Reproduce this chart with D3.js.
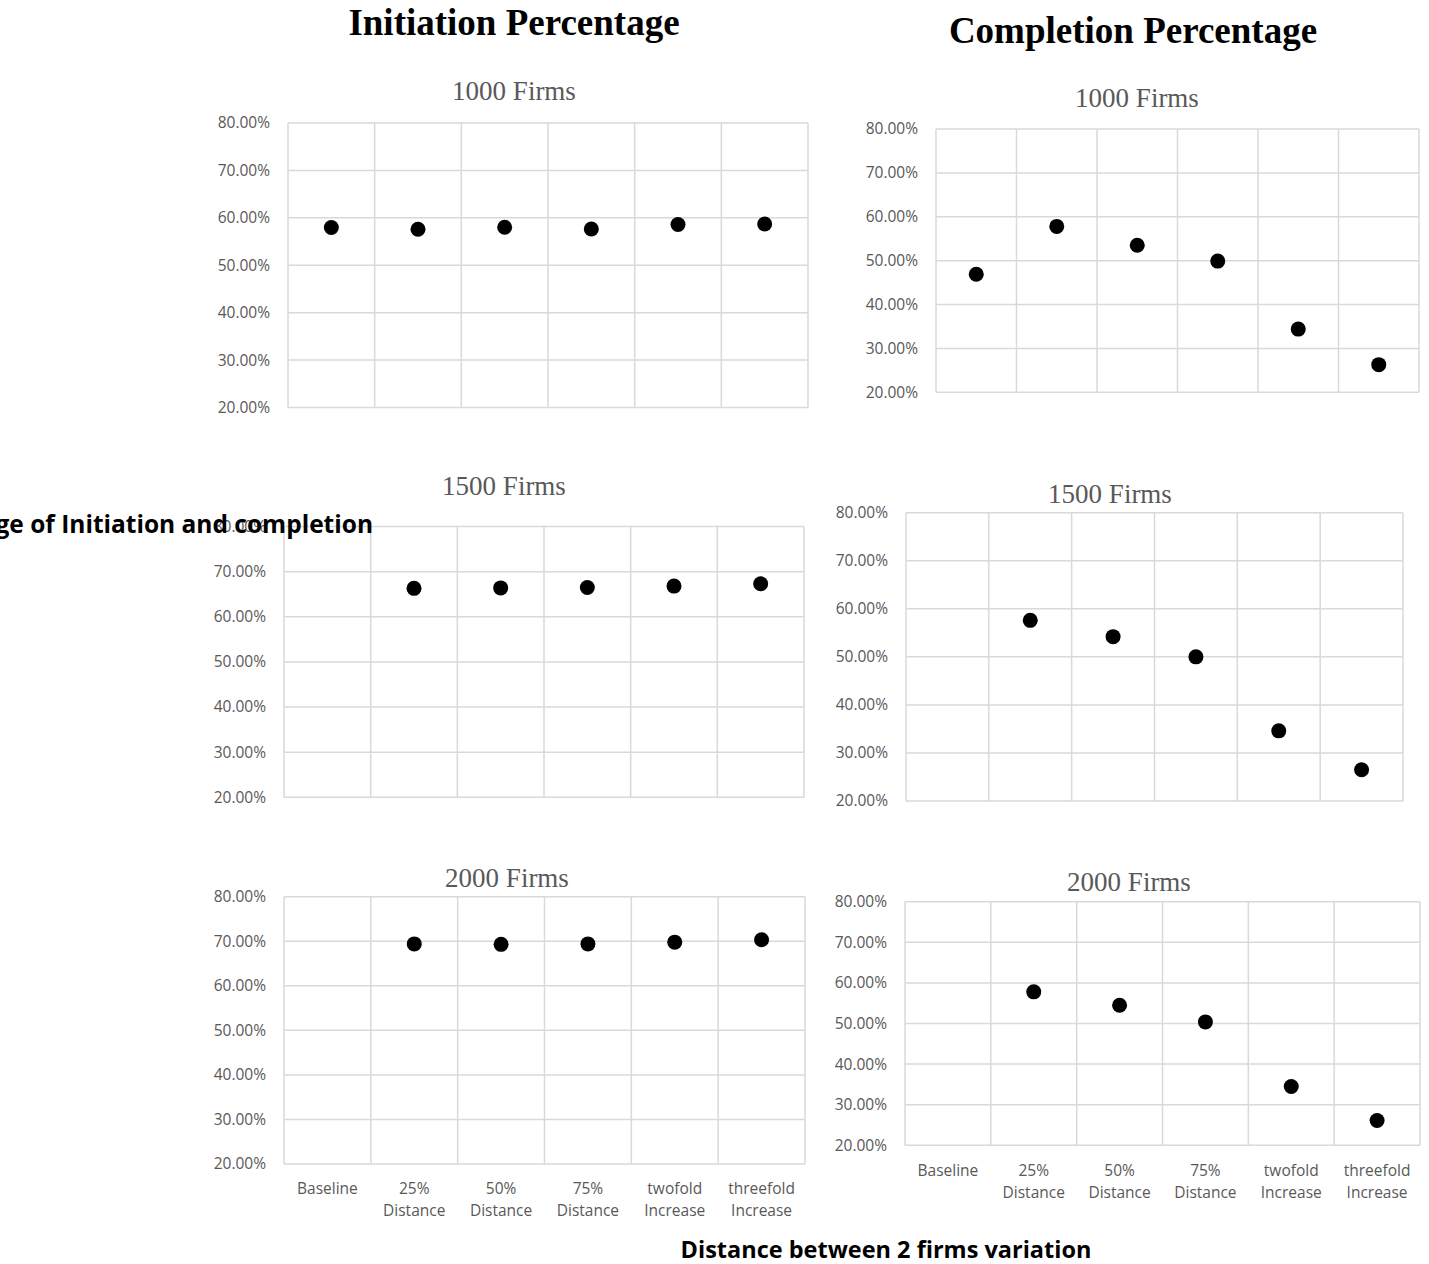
<!DOCTYPE html>
<html>
<head>
<meta charset="utf-8">
<script src="https://cdn.jsdelivr.net/npm/d3@7"></script>
<style>
  body { margin: 0; background: #fff; }
  svg { display: block; }
  .tick-label { font-family: "Open Sans", sans-serif; font-size: 15.5px; fill: #595959; }
  .cat-label { font-family: "Open Sans", sans-serif; font-size: 15.5px; fill: #595959; }
  .panel-title { font-family: "Liberation Serif", "Times New Roman", serif; font-size: 27px; fill: #595959; }
  .main-title { font-family: "Liberation Serif", "Times New Roman", serif; font-size: 37px; font-weight: bold; fill: #000; }
  .axis-title { font-family: "Open Sans", sans-serif; font-size: 23.5px; font-weight: bold; fill: #000; }
</style>
</head>
<body>
<svg id="chart"></svg>
<script>
// categories on the x axis (two lines each)
const categories = ["Baseline", "25% Distance", "50% Distance", "75% Distance", "twofold Increase", "threefold Increase"];
const categoryLines = [["Baseline"], ["25%", "Distance"], ["50%", "Distance"], ["75%", "Distance"], ["twofold", "Increase"], ["threefold", "Increase"]];

// y ticks
const yTicks = [0.2, 0.3, 0.4, 0.5, 0.6, 0.7, 0.8];

// series values (percent), null = no point
const init1000 = [57.95, 57.6, 58.0, 57.65, 58.6, 58.7];
const comp1000 = [46.9, 57.8, 53.5, 49.9, 34.4, 26.3];
const init1500 = [null, 66.3, 66.4, 66.5, 66.8, 67.3];
const comp1500 = [null, 57.6, 54.2, 50.0, 34.6, 26.5];
const init2000 = [null, 69.4, 69.3, 69.4, 69.8, 70.35];
const comp2000 = [null, 57.8, 54.5, 50.4, 34.5, 26.1];

const width = 1429, height = 1264;
const svg = d3.select("#chart").attr("width", width).attr("height", height);

// panel boxes (plot area) and title placement
const panels = [
  { title: "1000 Firms", values: init1000, left: 288, right: 808, top: 123, bottom: 407.5, tx: 514, ty: 100, showX: false },
  { title: "1000 Firms", values: comp1000, left: 936, right: 1419, top: 129, bottom: 392.3, tx: 1137, ty: 107, showX: false },
  { title: "1500 Firms", values: init1500, left: 284, right: 804, top: 526.5, bottom: 797.3, tx: 504, ty: 495, showX: false },
  { title: "1500 Firms", values: comp1500, left: 906, right: 1403, top: 512.7, bottom: 801, tx: 1110, ty: 503, showX: false },
  { title: "2000 Firms", values: init2000, left: 284, right: 805, top: 896.7, bottom: 1164, tx: 507, ty: 887, showX: true },
  { title: "2000 Firms", values: comp2000, left: 905, right: 1420, top: 901.7, bottom: 1145.3, tx: 1129, ty: 891, showX: true }
];

const gridColor = "#d9d9d9";
const fmt = d3.format(".2%");

function drawPanel(p) {
  const g = svg.append("g");

  const x = d3.scaleBand().domain(categories).range([p.left, p.right]).padding(0);
  const y = d3.scaleLinear().domain([0.2, 0.8]).range([p.bottom, p.top]);

  // horizontal gridlines
  g.selectAll(".hgrid")
    .data(yTicks)
    .enter()
    .append("line")
    .attr("x1", p.left)
    .attr("x2", p.right)
    .attr("y1", (d) => y(d))
    .attr("y2", (d) => y(d))
    .attr("stroke", gridColor)
    .attr("stroke-width", 1.5);

  // vertical gridlines (category boundaries, incl. both edges)
  const bounds = categories.map((c) => x(c)).concat([p.right]);
  g.selectAll(".vgrid")
    .data(bounds)
    .enter()
    .append("line")
    .attr("x1", (d) => d)
    .attr("x2", (d) => d)
    .attr("y1", p.top)
    .attr("y2", p.bottom)
    .attr("stroke", gridColor)
    .attr("stroke-width", 1.5);

  // y tick labels
  g.selectAll(".tick-label")
    .data(yTicks)
    .enter()
    .append("text")
    .attr("class", "tick-label")
    .attr("x", p.left - 18)
    .attr("y", (d) => y(d))
    .attr("dy", "0.35em")
    .attr("text-anchor", "end")
    .text((d) => fmt(d));

  // points
  const pts = p.values
    .map((v, i) => ({ cat: categories[i], v: v }))
    .filter((d) => d.v !== null);
  g.selectAll("circle")
    .data(pts)
    .enter()
    .append("circle")
    .attr("cx", (d) => x(d.cat) + x.bandwidth() / 2)
    .attr("cy", (d) => y(d.v / 100))
    .attr("r", 7.5)
    .attr("fill", "#000");

  // panel title
  g.append("text")
    .attr("class", "panel-title")
    .attr("x", p.tx)
    .attr("y", p.ty)
    .attr("text-anchor", "middle")
    .text(p.title);

  // category labels
  if (p.showX) {
    categories.forEach((c, i) => {
      const t = g.append("text")
        .attr("class", "cat-label")
        .attr("text-anchor", "middle")
        .attr("x", x(c) + x.bandwidth() / 2)
        .attr("y", p.bottom + 25);
      categoryLines[i].forEach((line, j) => {
        t.append("tspan")
          .attr("x", x(c) + x.bandwidth() / 2)
          .attr("dy", j === 0 ? "0.35em" : "22")
          .text(line);
      });
    });
  }
}

panels.forEach(drawPanel);

// main titles
svg.append("text")
  .attr("class", "main-title")
  .attr("x", 514)
  .attr("y", 35)
  .attr("text-anchor", "middle")
  .text("Initiation Percentage");

svg.append("text")
  .attr("class", "main-title")
  .attr("x", 1133)
  .attr("y", 43)
  .attr("text-anchor", "middle")
  .text("Completion Percentage");

// overall axis titles (the left one runs off the page, as in the original)
svg.append("text")
  .attr("class", "axis-title")
  .style("font-size", "24.5px")
  .attr("x", 373)
  .attr("y", 533)
  .attr("text-anchor", "end")
  .text("Percentage of Initiation and completion");

svg.append("text")
  .attr("class", "axis-title")
  .attr("x", 886)
  .attr("y", 1258)
  .attr("text-anchor", "middle")
  .text("Distance between 2 firms variation");
</script>
</body>
</html>
